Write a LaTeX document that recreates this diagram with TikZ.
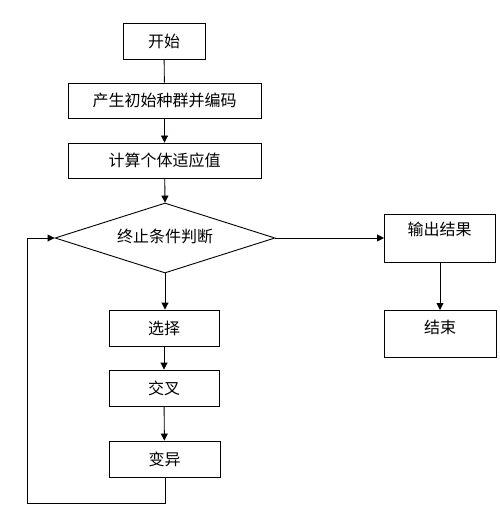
\documentclass[tikz,border=0pt]{standalone}
\usepackage{fontspec}
\newfontfamily\cjk{Noto Sans CJK SC}
\usetikzlibrary{shapes.geometric,arrows.meta}
\begin{document}
\begin{tikzpicture}[x=1pt,y=-1pt,
  txt/.style={font=\cjk\fontsize{16}{18}\selectfont},
  box/.style={draw,line width=0.9pt,inner sep=0pt,txt},
  arr/.style={line width=0.9pt,-{Triangle[length=7pt,width=7pt]}},
  ln/.style={line width=0.9pt}]
\useasboundingbox (0,0) rectangle (499,513);
\node[box,minimum width=82pt,minimum height=36pt] (start) at (164,41) {开始};
\node[box,minimum width=193pt,minimum height=35pt] (init) at (164.5,100.5) {产生初始种群并编码};
\node[box,minimum width=193pt,minimum height=35pt] (fit) at (164.5,160.5) {计算个体适应值};
\node[box,diamond,aspect=3.14,minimum width=220pt,minimum height=70pt,inner sep=0pt] (cond) at (165,238) {};
\node[txt] at (165,236) {终止条件判断};
\node[box,minimum width=111pt,minimum height=48pt,anchor=north west] (out) at (384,214) {};
\node[txt] at (439.5,229) {输出结果};
\node[box,minimum width=112pt,minimum height=47pt,anchor=north west] (end) at (384,310) {};
\node[txt] at (440,327) {结束};
\node[box,minimum width=110pt,minimum height=36pt] (sel) at (164,328) {选择};
\node[box,minimum width=110pt,minimum height=36pt] (cross) at (164,388) {交叉};
\node[box,minimum width=111pt,minimum height=36pt] (mut) at (164.5,459) {变异};
\coordinate (c1) at (165,503);
\coordinate (c2) at (27,503);
\coordinate (c3) at (27,238);
\draw[ln] (start) -- (init);
\draw[arr] (init) -- (fit);
\draw[arr] (fit) -- (cond.north);
\draw[arr] (cond.east) -- (out.west |- cond.east);
\draw[arr] (out.south -| 440,0) -- (end.north -| 440,0);
\draw[arr] (cond.south) -- (sel.north -| cond.south);
\draw[arr] (sel) -- (cross);
\draw[arr] (cross) -- (mut);
\draw[ln] (mut.south -| c1) -- (c1) -- (c2) -- (c3);
\draw[arr] (c3) -- (cond.west);
\end{tikzpicture}
\end{document}
